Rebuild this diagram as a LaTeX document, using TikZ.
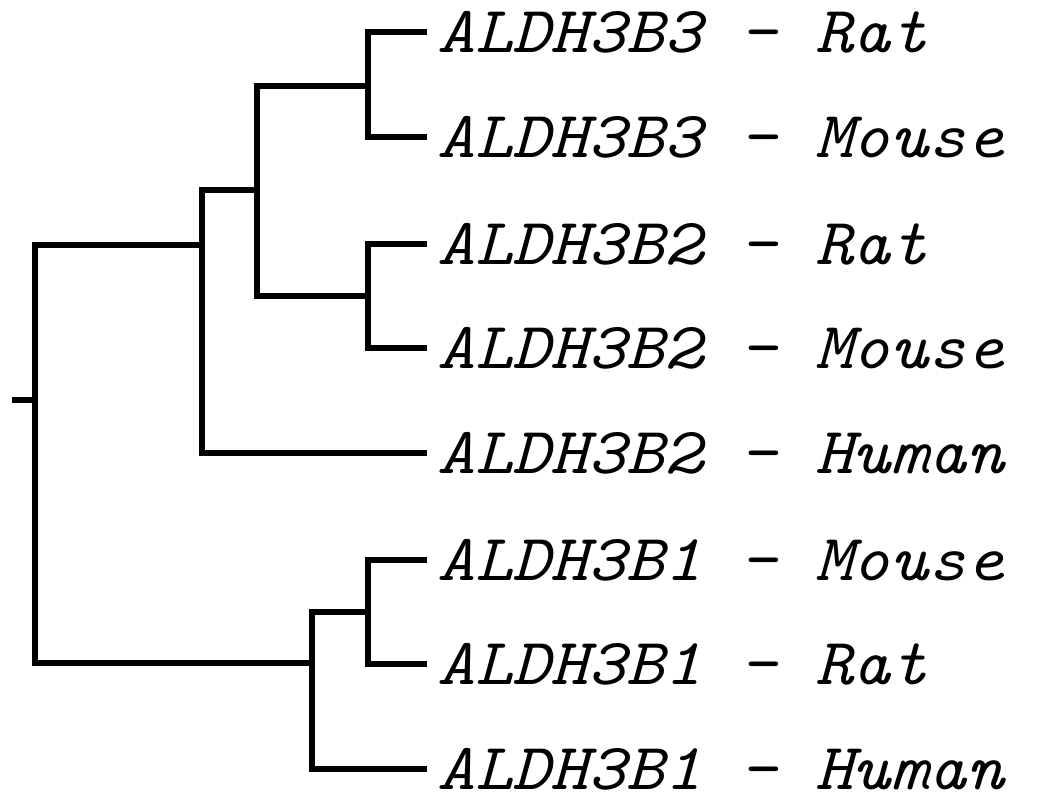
\documentclass[tikz,border=0pt]{standalone}
\usepackage{fontspec}
\newfontfamily\leaffont{Latin Modern Mono}[FakeStretch=1.09]
\begin{document}
\begin{tikzpicture}[x=0.5pt,y=-0.5pt,
  branch/.style={line width=2.7pt,line join=miter},
  leaf/.style={anchor=west,inner xsep=5pt,inner ysep=0pt,
    font=\fontsize{33}{38}\selectfont\leaffont\itshape,
    text height=20pt,text depth=0pt}]
\useasboundingbox (0,0) rectangle (1048,794);
% leaf labels
\node[leaf] (l1) at (427,32)  {ALDH3B3 – Rat};
\node[leaf] (l2) at (427,137) {ALDH3B3 – Mouse};
\node[leaf] (l3) at (427,244) {ALDH3B2 – Rat};
\node[leaf] (l4) at (427,348) {ALDH3B2 – Mouse};
\node[leaf] (l5) at (427,453) {ALDH3B2 – Human};
\node[leaf] (l6) at (427,560) {ALDH3B1 – Mouse};
\node[leaf] (l7) at (427,664) {ALDH3B1 – Rat};
\node[leaf] (l8) at (427,769) {ALDH3B1 – Human};
% internal nodes
\coordinate (root) at (35,400);
\coordinate (stub) at (12,400);
\coordinate (d) at (202,245);
\coordinate (c) at (257,190);
\coordinate (a) at (368,86);
\coordinate (b) at (368,296);
\coordinate (f) at (312,663);
\coordinate (e) at (368,612);
% branches
\draw[branch] (stub) -- (root);
\draw[branch] (root) |- (d);
\draw[branch] (root) |- (f);
\draw[branch] (d) |- (c);
\draw[branch] (d) |- (l5.west);
\draw[branch] (c) |- (a);
\draw[branch] (c) |- (b);
\draw[branch] (a) |- (l1.west);
\draw[branch] (a) |- (l2.west);
\draw[branch] (b) |- (l3.west);
\draw[branch] (b) |- (l4.west);
\draw[branch] (f) |- (e);
\draw[branch] (f) |- (l8.west);
\draw[branch] (e) |- (l6.west);
\draw[branch] (e) |- (l7.west);
\end{tikzpicture}
\end{document}
